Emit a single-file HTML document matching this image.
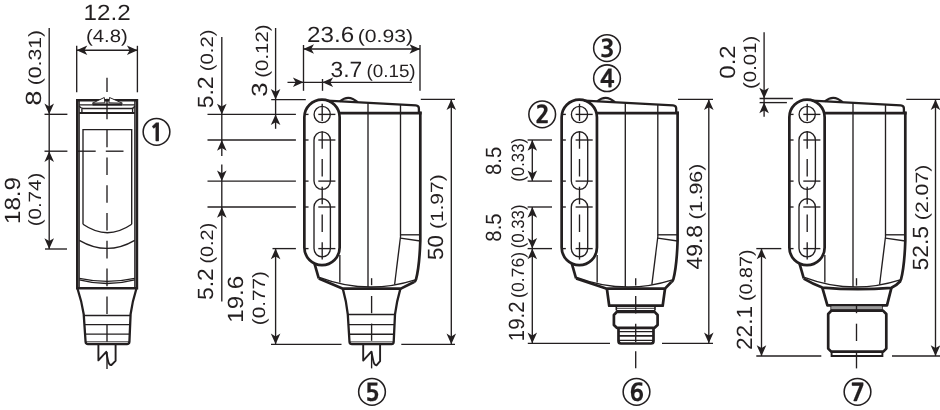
<!DOCTYPE html>
<html><head><meta charset="utf-8"><title>Dimensional drawing</title>
<style>
html,body{margin:0;padding:0;background:#fff;}
body{width:940px;height:410px;overflow:hidden;}
svg{display:block;will-change:transform;}
svg text{font-family:"Liberation Sans",sans-serif;fill:#231f20;stroke:none;text-rendering:geometricPrecision;}
svg text.cn{font-family:"NanumGothic","Liberation Sans",sans-serif;font-weight:800;stroke:#231f20;stroke-width:0.15px;}
</style></head><body>
<svg width="940" height="410" viewBox="0 0 940 410" fill="none" stroke="#231f20" stroke-linecap="butt">
<rect x="0" y="0" width="940" height="410" fill="#fff" stroke="none"/>
<path d="M77.3 288.3 L77.3 100.3 L136.9 100.3 L136.9 288.3 Z" stroke-width="2.6" />
<line x1="79.15" y1="100.3" x2="79.15" y2="288.3" stroke-width="1.35" />
<line x1="134.85" y1="100.3" x2="134.85" y2="288.3" stroke-width="1.35" />
<path d="M92.4 103.2 L104.3 97.5 L104.9 102.8 Z M122.4 103.2 L109.5 97.5 L108.9 102.8 Z" stroke-width="0.95" fill="#fff"/>
<line x1="92.6" y1="104.5" x2="122" y2="104.5" stroke-width="2.0" />
<line x1="79.3" y1="104.9" x2="134.7" y2="104.9" stroke-width="1.3" />
<path d="M79.3 106 Q80.5 108.5 83 108.5 L131.4 108.5 Q133.9 108.5 134.7 106" stroke-width="1.3" />
<line x1="79.3" y1="113.1" x2="134.7" y2="113.1" stroke-width="2.0" />
<line x1="81.9" y1="108.5" x2="81.9" y2="113" stroke-width="1.35" />
<line x1="132.6" y1="108.5" x2="132.6" y2="113" stroke-width="1.35" />
<path d="M83 224.3 L83 129.6 L131.7 129.6 L131.7 224.3" stroke-width="1.35" />
<path d="M83 224.3 Q107.3 241.1 131.7 224.3" stroke-width="1.35" />
<path d="M79.3 240.3 Q107 256.5 134.7 240.3" stroke-width="1.35" />
<path d="M79.3 278.4 Q107 284.4 134.7 278.4" stroke-width="1.35" />
<path d="M79.3 279.8 Q107 287.1 134.7 279.8" stroke-width="1.35" />
<path d="M77.6 289 Q81.8 301.6 83.7 314.2 L85.6 342 Q85.8 344.1 88 344.1 L127 344.1 Q129.2 344.1 129.4 342 L130.6 314.2 Q132.3 301.6 136.3 289" stroke-width="2.3" />
<line x1="83.9" y1="315.5" x2="130.5" y2="315.5" stroke-width="1.35" />
<line x1="84.5" y1="324.6" x2="130.2" y2="324.6" stroke-width="1.35" />
<line x1="85.1" y1="334.1" x2="129.8" y2="334.1" stroke-width="1.35" />
<line x1="85.6" y1="341.8" x2="129.4" y2="341.8" stroke-width="0.9" />
<path d="M98.4 345 L98.4 360.4 L106.2 351.8 L107.9 360.3 Q108.9 365.4 111.4 365 L115.6 360.8 L115.6 345" stroke-width="1.9" stroke-linejoin="round"/>
<line x1="107.0" y1="77.8" x2="107.0" y2="92.0" stroke-width="1.35" />
<line x1="107.0" y1="98.8" x2="107.0" y2="119.2" stroke-width="1.35" />
<line x1="107.0" y1="129.6" x2="107.0" y2="369" stroke-width="1.35" stroke-dasharray="17.6 10.2"/>
<line x1="77.5" y1="151.2" x2="95.7" y2="151.2" stroke-width="1.35" />
<line x1="105.8" y1="151.2" x2="123.5" y2="151.2" stroke-width="1.35" />
<line x1="76.7" y1="45.8" x2="76.7" y2="92.3" stroke-width="1.35" />
<line x1="137.4" y1="45.8" x2="137.4" y2="92.3" stroke-width="1.35" />
<line x1="76.7" y1="50.2" x2="137.4" y2="50.2" stroke-width="1.35" />
<polygon points="76.60,50.20 87.30,45.40 84.52,50.20 87.30,55.00" fill="#231f20" stroke="none"/>
<polygon points="137.60,50.20 126.90,45.40 129.68,50.20 126.90,55.00" fill="#231f20" stroke="none"/>
<line x1="49.2" y1="28" x2="49.2" y2="249" stroke-width="1.35" />
<polygon points="49.20,114.30 44.40,103.60 49.20,106.38 54.00,103.60" fill="#231f20" stroke="none"/>
<line x1="44.5" y1="114.3" x2="67.4" y2="114.3" stroke-width="1.35" />
<line x1="44.5" y1="151.2" x2="67.4" y2="151.2" stroke-width="1.35" />
<polygon points="49.20,151.20 44.40,161.90 49.20,159.12 54.00,161.90" fill="#231f20" stroke="none"/>
<polygon points="49.20,249.00 44.40,238.30 49.20,241.08 54.00,238.30" fill="#231f20" stroke="none"/>
<line x1="45" y1="249" x2="67" y2="249" stroke-width="1.35" />
<circle cx="156.5" cy="131.8" r="13.35" stroke-width="1.55"/>
<text x="156.8" y="140.8" font-size="24" text-anchor="middle" class="cn" >1</text>
<path d="M304.35 247.5 L304.35 117.2 A17.65 17.65 0 0 1 339.65 117.2 L339.65 247.5 A17.65 17.65 0 0 1 304.35 247.5 Z" stroke-width="2.7" />
<path d="M327.0 100.6 L415.8 105.35 Q418.9 105.6 418.9 108.6 L418.9 113" stroke-width="2.3" stroke-linejoin="round"/>
<path d="M420.3 111.4 L420.3 241 C419.8 256 418.5 270 416 279.5 Q415.5 281.3 414 282" stroke-width="2.7" stroke-linejoin="round"/>
<line x1="339.65" y1="113.1" x2="421.65" y2="113.1" stroke-width="2.9" />
<path d="M339.9 101.4 Q348.6 93.9 357.6 102.2" stroke-width="2.3" />
<line x1="368.0" y1="103" x2="368.0" y2="287" stroke-width="1.35" />
<line x1="400.5" y1="104.5" x2="400.5" y2="236" stroke-width="1.35" />
<line x1="400.5" y1="234.8" x2="420.3" y2="234.8" stroke-width="1.35" />
<line x1="400.4" y1="238.2" x2="420.3" y2="241" stroke-width="1.35" />
<path d="M400.6 236 L394.6 284.6" stroke-width="1.35" />
<line x1="339.85" y1="255" x2="339.85" y2="282.5" stroke-width="1.35" />
<path d="M314.6 263.8 L318.8 278.5" stroke-width="2.7" />
<path d="M319.4 277.3 A145 145 0 0 0 415.2 279.9" stroke-width="1.35" />
<circle cx="322.2" cy="114.5" r="8.1" stroke-width="1.35"/>
<path d="M314.0 140 A8.2 8.2 0 0 1 330.4 140 L330.4 181.1 A8.2 8.2 0 0 1 314.0 181.1 Z" stroke-width="1.35" />
<path d="M314.0 207 A8.2 8.2 0 0 1 330.4 207 L330.4 248.6 A8.2 8.2 0 0 1 314.0 248.6 Z" stroke-width="1.35" />
<line x1="318.3" y1="114.4" x2="335.4" y2="114.4" stroke-width="1.35" />
<line x1="304.35" y1="114.4" x2="308.55" y2="114.4" stroke-width="1.35" />
<line x1="318.3" y1="140" x2="335.4" y2="140" stroke-width="1.35" />
<line x1="304.35" y1="140" x2="308.55" y2="140" stroke-width="1.35" />
<line x1="318.3" y1="181.1" x2="335.4" y2="181.1" stroke-width="1.35" />
<line x1="304.35" y1="181.1" x2="308.55" y2="181.1" stroke-width="1.35" />
<line x1="318.3" y1="207" x2="335.4" y2="207" stroke-width="1.35" />
<line x1="304.35" y1="207" x2="308.55" y2="207" stroke-width="1.35" />
<line x1="318.3" y1="248.6" x2="335.4" y2="248.6" stroke-width="1.35" />
<line x1="304.35" y1="248.6" x2="308.55" y2="248.6" stroke-width="1.35" />
<line x1="322.2" y1="103.7" x2="322.2" y2="259.6" stroke-width="1.35" stroke-dasharray="17.4 10.3"/>
<path d="M318.8 278.5 L342.4 288.6 L400.8 288.6 L414 282" stroke-width="2.7" stroke-linejoin="round"/>
<path d="M342.8 288.6 Q346.5 301.7 347.8 314.4 L349.5 342 Q349.7 344.2 352 344.2 L391.6 344.2 Q393.5 344.2 393.7 342 L395 314.4 Q396.6 301.7 400.4 288.6" stroke-width="2.3" />
<line x1="348" y1="314.5" x2="395" y2="314.5" stroke-width="1.6" />
<line x1="348.6" y1="324.6" x2="394.6" y2="324.6" stroke-width="1.35" />
<line x1="349.2" y1="334.2" x2="394.2" y2="334.2" stroke-width="1.35" />
<line x1="349.6" y1="341.9" x2="394" y2="341.9" stroke-width="0.9" />
<path d="M363.2 345 L363.2 360.6 L371.4 351.7 L373.2 360.4 Q374.2 365.6 376.7 365.2 L380.1 361.2 L380.1 345" stroke-width="1.9" stroke-linejoin="round"/>
<line x1="371.6" y1="278.2" x2="371.6" y2="285.2" stroke-width="1.35" />
<line x1="371.6" y1="296" x2="371.6" y2="313.2" stroke-width="1.35" />
<line x1="371.6" y1="323.6" x2="371.6" y2="340.8" stroke-width="1.35" />
<line x1="371.6" y1="351.4" x2="371.6" y2="368.4" stroke-width="1.35" />
<line x1="303.5" y1="45" x2="303.5" y2="90.8" stroke-width="1.35" />
<line x1="420.0" y1="45" x2="420.0" y2="90.8" stroke-width="1.35" />
<line x1="303.5" y1="49" x2="420" y2="49" stroke-width="1.35" />
<polygon points="303.30,49.00 314.00,44.20 311.22,49.00 314.00,53.80" fill="#231f20" stroke="none"/>
<polygon points="420.20,49.00 409.50,44.20 412.28,49.00 409.50,53.80" fill="#231f20" stroke="none"/>
<line x1="287.5" y1="82.3" x2="411.9" y2="82.3" stroke-width="1.35" />
<polygon points="303.60,82.30 292.90,77.50 295.68,82.30 292.90,87.10" fill="#231f20" stroke="none"/>
<polygon points="322.40,82.30 333.10,77.50 330.32,82.30 333.10,87.10" fill="#231f20" stroke="none"/>
<line x1="322.5" y1="79" x2="322.5" y2="90.8" stroke-width="1.35" />
<line x1="275.6" y1="28" x2="275.6" y2="99.6" stroke-width="1.35" />
<polygon points="275.60,99.60 270.80,88.90 275.60,91.68 280.40,88.90" fill="#231f20" stroke="none"/>
<line x1="271.2" y1="99.6" x2="305.8" y2="99.6" stroke-width="1.35" />
<polygon points="275.60,114.40 270.80,125.10 275.60,122.32 280.40,125.10" fill="#231f20" stroke="none"/>
<line x1="275.6" y1="99.6" x2="275.6" y2="128.8" stroke-width="1.35" />
<line x1="221.8" y1="37" x2="221.8" y2="114.4" stroke-width="1.35" />
<polygon points="221.80,114.40 217.00,103.70 221.80,106.48 226.60,103.70" fill="#231f20" stroke="none"/>
<line x1="207.5" y1="114.4" x2="295.9" y2="114.4" stroke-width="1.35" />
<line x1="207.5" y1="140" x2="295.9" y2="140" stroke-width="1.35" />
<line x1="207.5" y1="181.1" x2="295.9" y2="181.1" stroke-width="1.35" />
<line x1="207.5" y1="207" x2="295.9" y2="207" stroke-width="1.35" />
<line x1="221.8" y1="114.4" x2="221.8" y2="140" stroke-width="1.35" />
<line x1="221.8" y1="181.1" x2="221.8" y2="207" stroke-width="1.35" />
<polygon points="221.80,140.00 217.00,150.70 221.80,147.92 226.60,150.70" fill="#231f20" stroke="none"/>
<line x1="221.8" y1="140" x2="221.8" y2="156" stroke-width="1.35" />
<polygon points="221.80,181.10 217.00,170.40 221.80,173.18 226.60,170.40" fill="#231f20" stroke="none"/>
<line x1="221.8" y1="164.5" x2="221.8" y2="181.1" stroke-width="1.35" />
<polygon points="221.80,207.00 217.00,217.70 221.80,214.92 226.60,217.70" fill="#231f20" stroke="none"/>
<line x1="221.8" y1="207" x2="221.8" y2="301.6" stroke-width="1.35" />
<line x1="272.5" y1="248.6" x2="295.9" y2="248.6" stroke-width="1.35" />
<polygon points="275.60,248.60 270.80,259.30 275.60,256.52 280.40,259.30" fill="#231f20" stroke="none"/>
<line x1="275.6" y1="248.6" x2="275.6" y2="344.3" stroke-width="1.35" />
<polygon points="275.60,344.30 270.80,333.60 275.60,336.38 280.40,333.60" fill="#231f20" stroke="none"/>
<line x1="271" y1="344.3" x2="341.5" y2="344.3" stroke-width="1.35" />
<line x1="401.3" y1="344.3" x2="455" y2="344.3" stroke-width="1.35" />
<line x1="420.8" y1="99.4" x2="455" y2="99.4" stroke-width="1.35" />
<line x1="451.3" y1="99.4" x2="451.3" y2="344.3" stroke-width="1.35" />
<polygon points="451.30,99.40 446.50,110.10 451.30,107.32 456.10,110.10" fill="#231f20" stroke="none"/>
<polygon points="451.30,344.30 446.50,333.60 451.30,336.38 456.10,333.60" fill="#231f20" stroke="none"/>
<circle cx="372" cy="391.8" r="13.35" stroke-width="1.55"/>
<text x="372.3" y="400.8" font-size="24" text-anchor="middle" class="cn" >5</text>
<path d="M561.65 247.5 L561.65 117.2 A17.65 17.65 0 0 1 596.95 117.2 L596.95 247.5 A17.65 17.65 0 0 1 561.65 247.5 Z" stroke-width="2.7" />
<path d="M584.3 100.6 L673.1 105.35 Q676.2 105.6 676.2 108.6 L676.2 113" stroke-width="2.3" stroke-linejoin="round"/>
<path d="M677.6 111.4 L677.6 241 C677.1 256 675.8 270 673.3 279.5 Q672.8 281.3 671.3 282" stroke-width="2.7" stroke-linejoin="round"/>
<line x1="596.95" y1="113.1" x2="678.95" y2="113.1" stroke-width="2.9" />
<path d="M597.2 101.4 Q605.9 93.9 614.9 102.2" stroke-width="2.3" />
<line x1="625.3" y1="103" x2="625.3" y2="287" stroke-width="1.35" />
<line x1="657.8" y1="104.5" x2="657.8" y2="236" stroke-width="1.35" />
<line x1="657.8" y1="234.8" x2="677.6" y2="234.8" stroke-width="1.35" />
<line x1="657.7" y1="238.2" x2="677.6" y2="241" stroke-width="1.35" />
<path d="M657.9 236 L651.9 284.6" stroke-width="1.35" />
<line x1="597.15" y1="255" x2="597.15" y2="282.5" stroke-width="1.35" />
<path d="M571.9 263.8 L576.1 278.5" stroke-width="2.7" />
<path d="M576.7 277.3 A145 145 0 0 0 672.5 279.9" stroke-width="1.35" />
<circle cx="579.5" cy="114.5" r="8.1" stroke-width="1.35"/>
<path d="M571.3 140 A8.2 8.2 0 0 1 587.7 140 L587.7 181.1 A8.2 8.2 0 0 1 571.3 181.1 Z" stroke-width="1.35" />
<path d="M571.3 207 A8.2 8.2 0 0 1 587.7 207 L587.7 248.6 A8.2 8.2 0 0 1 571.3 248.6 Z" stroke-width="1.35" />
<line x1="575.6" y1="114.4" x2="592.7" y2="114.4" stroke-width="1.35" />
<line x1="561.65" y1="114.4" x2="565.85" y2="114.4" stroke-width="1.35" />
<line x1="575.6" y1="140" x2="592.7" y2="140" stroke-width="1.35" />
<line x1="561.65" y1="140" x2="565.85" y2="140" stroke-width="1.35" />
<line x1="575.6" y1="181.1" x2="592.7" y2="181.1" stroke-width="1.35" />
<line x1="561.65" y1="181.1" x2="565.85" y2="181.1" stroke-width="1.35" />
<line x1="575.6" y1="207" x2="592.7" y2="207" stroke-width="1.35" />
<line x1="561.65" y1="207" x2="565.85" y2="207" stroke-width="1.35" />
<line x1="575.6" y1="248.6" x2="592.7" y2="248.6" stroke-width="1.35" />
<line x1="561.65" y1="248.6" x2="565.85" y2="248.6" stroke-width="1.35" />
<line x1="579.5" y1="103.7" x2="579.5" y2="259.6" stroke-width="1.35" stroke-dasharray="17.4 10.3"/>
<path d="M576.1 278.5 L606.9 288.7 L665 288.7 L671.3 282" stroke-width="2.7" stroke-linejoin="round"/>
<path d="M606.9 288.7 L609.2 305.7 L662.7 305.7 L665 288.7" stroke-width="2.7" stroke-linejoin="round"/>
<line x1="616.3" y1="305.7" x2="616.3" y2="310.4" stroke-width="1.6" />
<line x1="655" y1="305.7" x2="655" y2="310.4" stroke-width="1.6" />
<line x1="616.3" y1="308.3" x2="655" y2="308.3" stroke-width="0.9" />
<line x1="616.3" y1="310.6" x2="655" y2="310.6" stroke-width="1.4" />
<path d="M616.8 311.8 L654.6 311.8 L657.6 315 L657.6 325 L654.6 327.8 L616.8 327.8 L613.9 325 L613.9 315 Z" stroke-width="2.7" stroke-linejoin="round"/>
<path d="M618.5 327.8 L618.5 341 Q618.5 343.5 621 343.5 L651 343.5 Q653.5 343.5 653.5 341 L653.5 327.8" stroke-width="2.7" />
<line x1="618.5" y1="331.6" x2="653.5" y2="331.6" stroke-width="1.35" />
<line x1="618.5" y1="335.8" x2="653.5" y2="335.8" stroke-width="1.8" />
<line x1="618.5" y1="340.3" x2="653.5" y2="340.3" stroke-width="1.35" />
<line x1="635.7" y1="278.2" x2="635.7" y2="285.5" stroke-width="1.35" />
<line x1="635.7" y1="296" x2="635.7" y2="313.6" stroke-width="1.35" />
<line x1="635.7" y1="323.8" x2="635.7" y2="342" stroke-width="1.35" />
<line x1="635.7" y1="351.2" x2="635.7" y2="368.3" stroke-width="1.35" />
<line x1="532.3" y1="140" x2="532.3" y2="181.1" stroke-width="1.35" />
<polygon points="532.30,140.00 527.50,150.70 532.30,147.92 537.10,150.70" fill="#231f20" stroke="none"/>
<polygon points="532.30,181.10 527.50,170.40 532.30,173.18 537.10,170.40" fill="#231f20" stroke="none"/>
<line x1="532.3" y1="207" x2="532.3" y2="248.6" stroke-width="1.35" />
<polygon points="532.30,207.00 527.50,217.70 532.30,214.92 537.10,217.70" fill="#231f20" stroke="none"/>
<polygon points="532.30,248.60 527.50,237.90 532.30,240.68 537.10,237.90" fill="#231f20" stroke="none"/>
<line x1="532.3" y1="248.6" x2="532.3" y2="343.3" stroke-width="1.35" />
<polygon points="532.30,248.60 527.50,259.30 532.30,256.52 537.10,259.30" fill="#231f20" stroke="none"/>
<polygon points="532.30,343.30 527.50,332.60 532.30,335.38 537.10,332.60" fill="#231f20" stroke="none"/>
<line x1="527.6" y1="140" x2="552" y2="140" stroke-width="1.35" />
<line x1="527.6" y1="181.1" x2="552" y2="181.1" stroke-width="1.35" />
<line x1="527.6" y1="207" x2="552" y2="207" stroke-width="1.35" />
<line x1="527.6" y1="248.6" x2="552" y2="248.6" stroke-width="1.35" />
<line x1="527.8" y1="343.3" x2="610" y2="343.3" stroke-width="1.35" />
<line x1="662" y1="343.3" x2="713" y2="343.3" stroke-width="1.35" />
<line x1="678" y1="99.4" x2="713" y2="99.4" stroke-width="1.35" />
<line x1="708.8" y1="99.4" x2="708.8" y2="343.3" stroke-width="1.35" />
<polygon points="708.80,99.40 704.00,110.10 708.80,107.32 713.60,110.10" fill="#231f20" stroke="none"/>
<polygon points="708.80,343.30 704.00,332.60 708.80,335.38 713.60,332.60" fill="#231f20" stroke="none"/>
<circle cx="542.2" cy="114.3" r="13.35" stroke-width="1.55"/>
<text x="542.5" y="123.3" font-size="24" text-anchor="middle" class="cn" >2</text>
<circle cx="607" cy="48.1" r="13.35" stroke-width="1.55"/>
<text x="607.3" y="57.1" font-size="24" text-anchor="middle" class="cn" >3</text>
<circle cx="607" cy="78.2" r="13.35" stroke-width="1.55"/>
<text x="607.3" y="87.2" font-size="24" text-anchor="middle" class="cn" >4</text>
<circle cx="636.5" cy="391.8" r="13.35" stroke-width="1.55"/>
<text x="636.8" y="400.8" font-size="24" text-anchor="middle" class="cn" >6</text>
<path d="M789.35 247.5 L789.35 117.2 A17.65 17.65 0 0 1 824.65 117.2 L824.65 247.5 A17.65 17.65 0 0 1 789.35 247.5 Z" stroke-width="2.7" />
<path d="M812.0 100.6 L900.8 105.35 Q903.9 105.6 903.9 108.6 L903.9 113" stroke-width="2.3" stroke-linejoin="round"/>
<path d="M905.3 111.4 L905.3 241 C904.8 256 903.5 270 901.0 279.5 Q900.5 281.3 899.0 282" stroke-width="2.7" stroke-linejoin="round"/>
<line x1="824.65" y1="113.1" x2="906.65" y2="113.1" stroke-width="2.9" />
<path d="M824.9 101.4 Q833.6 93.9 842.6 102.2" stroke-width="2.3" />
<line x1="853.0" y1="103" x2="853.0" y2="287" stroke-width="1.35" />
<line x1="885.5" y1="104.5" x2="885.5" y2="236" stroke-width="1.35" />
<line x1="885.5" y1="234.8" x2="905.3" y2="234.8" stroke-width="1.35" />
<line x1="885.4" y1="238.2" x2="905.3" y2="241" stroke-width="1.35" />
<path d="M885.6 236 L879.6 284.6" stroke-width="1.35" />
<line x1="824.85" y1="255" x2="824.85" y2="282.5" stroke-width="1.35" />
<path d="M799.6 263.8 L803.8 278.5" stroke-width="2.7" />
<path d="M804.4 277.3 A145 145 0 0 0 900.2 279.9" stroke-width="1.35" />
<circle cx="807.2" cy="114.5" r="8.1" stroke-width="1.35"/>
<path d="M799.0 140 A8.2 8.2 0 0 1 815.4 140 L815.4 181.1 A8.2 8.2 0 0 1 799.0 181.1 Z" stroke-width="1.35" />
<path d="M799.0 207 A8.2 8.2 0 0 1 815.4 207 L815.4 248.6 A8.2 8.2 0 0 1 799.0 248.6 Z" stroke-width="1.35" />
<line x1="803.3" y1="114.4" x2="820.4" y2="114.4" stroke-width="1.35" />
<line x1="789.35" y1="114.4" x2="793.55" y2="114.4" stroke-width="1.35" />
<line x1="803.3" y1="140" x2="820.4" y2="140" stroke-width="1.35" />
<line x1="789.35" y1="140" x2="793.55" y2="140" stroke-width="1.35" />
<line x1="803.3" y1="181.1" x2="820.4" y2="181.1" stroke-width="1.35" />
<line x1="789.35" y1="181.1" x2="793.55" y2="181.1" stroke-width="1.35" />
<line x1="803.3" y1="207" x2="820.4" y2="207" stroke-width="1.35" />
<line x1="789.35" y1="207" x2="793.55" y2="207" stroke-width="1.35" />
<line x1="803.3" y1="248.6" x2="820.4" y2="248.6" stroke-width="1.35" />
<line x1="789.35" y1="248.6" x2="793.55" y2="248.6" stroke-width="1.35" />
<line x1="807.2" y1="103.7" x2="807.2" y2="259.6" stroke-width="1.35" stroke-dasharray="17.4 10.3"/>
<path d="M803.7 278.6 Q813.0 284 822.3 287.6 Q856.5 290.6 891.4 287.8 Q897 285 900.5 281" stroke-width="2.7" stroke-linejoin="round"/>
<path d="M822.3 287.6 L827.4 305.4 L887 305.4 L891.4 287.8" stroke-width="2.7" stroke-linejoin="round"/>
<line x1="831.2" y1="305.4" x2="831.2" y2="310.4" stroke-width="1.6" />
<line x1="882" y1="305.4" x2="882" y2="310.4" stroke-width="1.6" />
<rect x="831.2" y="306.3" width="50.8" height="3.4" fill="#9a9a9a" stroke="none"/>
<line x1="831.2" y1="310.4" x2="882" y2="310.4" stroke-width="1.6" />
<path d="M831.4 310.6 L883 310.6 L886.3 314 L886.3 348.6 L883.3 351.6 L831.2 351.6 L828.2 348.6 L828.2 314 Z" stroke-width="2.7" stroke-linejoin="round"/>
<path d="M831.6 351.6 L831.6 356 L882.4 356 L882.4 351.6" stroke-width="1.9" />
<line x1="856.5" y1="278.2" x2="856.5" y2="285.6" stroke-width="1.35" />
<line x1="856.5" y1="305.7" x2="856.5" y2="313.2" stroke-width="1.35" />
<line x1="856.5" y1="323.7" x2="856.5" y2="341" stroke-width="1.35" />
<line x1="856.5" y1="352" x2="856.5" y2="368.4" stroke-width="1.35" />
<line x1="764.1" y1="32.3" x2="764.1" y2="116.7" stroke-width="1.35" />
<polygon points="764.10,98.40 759.30,87.70 764.10,90.48 768.90,87.70" fill="#231f20" stroke="none"/>
<line x1="759.6" y1="98.45" x2="792.9" y2="98.45" stroke-width="1.35" />
<line x1="759.6" y1="102.6" x2="786.9" y2="102.6" stroke-width="1.35" />
<polygon points="764.10,102.60 759.30,113.30 764.10,110.52 768.90,113.30" fill="#231f20" stroke="none"/>
<line x1="756.3" y1="248.6" x2="781.3" y2="248.6" stroke-width="1.35" />
<polygon points="761.50,248.60 756.70,259.30 761.50,256.52 766.30,259.30" fill="#231f20" stroke="none"/>
<line x1="761.5" y1="248.6" x2="761.5" y2="356" stroke-width="1.35" />
<polygon points="761.50,356.00 756.70,345.30 761.50,348.08 766.30,345.30" fill="#231f20" stroke="none"/>
<line x1="756.3" y1="356" x2="821.3" y2="356" stroke-width="1.35" />
<line x1="892" y1="356" x2="940" y2="356" stroke-width="1.35" />
<line x1="906.3" y1="99.4" x2="940" y2="99.4" stroke-width="1.35" />
<line x1="935.5" y1="99.4" x2="935.5" y2="356" stroke-width="1.35" />
<polygon points="935.50,99.40 930.70,110.10 935.50,107.32 940.30,110.10" fill="#231f20" stroke="none"/>
<polygon points="935.50,356.00 930.70,345.30 935.50,348.08 940.30,345.30" fill="#231f20" stroke="none"/>
<circle cx="857.5" cy="391.8" r="13.35" stroke-width="1.55"/>
<text x="857.8" y="400.8" font-size="24" text-anchor="middle" class="cn" >7</text>
<text x="83.5" y="20.2" font-size="22" text-anchor="start" font-weight="normal" textLength="47.11" lengthAdjust="spacingAndGlyphs" >12.2</text>
<text x="85.96" y="41.6" font-size="17.8" text-anchor="start" font-weight="normal" textLength="41.79" lengthAdjust="spacingAndGlyphs" >(4.8)</text>
<text x="307.1" y="42.2" font-size="22" text-anchor="start" font-weight="normal" textLength="47.11" lengthAdjust="spacingAndGlyphs" >23.6</text>
<text x="357.71" y="42.2" font-size="17.8" text-anchor="start" font-weight="normal" textLength="55.32" lengthAdjust="spacingAndGlyphs" >(0.93)</text>
<text x="330.56" y="76.6" font-size="22" text-anchor="start" font-weight="normal" textLength="31.69" lengthAdjust="spacingAndGlyphs" >3.7</text>
<text x="366.44" y="76.6" font-size="17.8" text-anchor="start" font-weight="normal" textLength="49.2" lengthAdjust="spacingAndGlyphs" >(0.15)</text>
<text x="41" y="105.75" font-size="22" text-anchor="start" font-weight="normal" textLength="15.31" lengthAdjust="spacingAndGlyphs" transform="rotate(-90 41 105.75)" >8</text>
<text x="41" y="85.19" font-size="17.8" text-anchor="start" font-weight="normal" textLength="55.22" lengthAdjust="spacingAndGlyphs" transform="rotate(-90 41 85.19)" >(0.31)</text>
<text x="20.2" y="224.1" font-size="22" text-anchor="start" font-weight="normal" textLength="47.22" lengthAdjust="spacingAndGlyphs" transform="rotate(-90 20.2 224.1)" >18.9</text>
<text x="41" y="226.35" font-size="17.8" text-anchor="start" font-weight="normal" textLength="53.63" lengthAdjust="spacingAndGlyphs" transform="rotate(-90 41 226.35)" >(0.74)</text>
<text x="213.3" y="108.35" font-size="22" text-anchor="start" font-weight="normal" textLength="32.01" lengthAdjust="spacingAndGlyphs" transform="rotate(-90 213.3 108.35)" >5.2</text>
<text x="213.3" y="71.14" font-size="17.8" text-anchor="start" font-weight="normal" textLength="41.58" lengthAdjust="spacingAndGlyphs" transform="rotate(-90 213.3 71.14)" >(0.2)</text>
<text x="213.5" y="300.04" font-size="22" text-anchor="start" font-weight="normal" textLength="31.9" lengthAdjust="spacingAndGlyphs" transform="rotate(-90 213.5 300.04)" >5.2</text>
<text x="213.5" y="263.51" font-size="17.8" text-anchor="start" font-weight="normal" textLength="40.74" lengthAdjust="spacingAndGlyphs" transform="rotate(-90 213.5 263.51)" >(0.2)</text>
<text x="267.5" y="96.77" font-size="22" text-anchor="start" font-weight="normal" textLength="14.33" lengthAdjust="spacingAndGlyphs" transform="rotate(-90 267.5 96.77)" >3</text>
<text x="267.5" y="77.75" font-size="17.8" text-anchor="start" font-weight="normal" textLength="53.32" lengthAdjust="spacingAndGlyphs" transform="rotate(-90 267.5 77.75)" >(0.12)</text>
<text x="243.4" y="322.8" font-size="22" text-anchor="start" font-weight="normal" textLength="47.11" lengthAdjust="spacingAndGlyphs" transform="rotate(-90 243.4 322.8)" >19.6</text>
<text x="264.7" y="325.17" font-size="17.8" text-anchor="start" font-weight="normal" textLength="54.16" lengthAdjust="spacingAndGlyphs" transform="rotate(-90 264.7 325.17)" >(0.77)</text>
<text x="443.5" y="259.92" font-size="22" text-anchor="start" font-weight="normal" textLength="24.91" lengthAdjust="spacingAndGlyphs" transform="rotate(-90 443.5 259.92)" >50</text>
<text x="443.5" y="229.08" font-size="17.8" text-anchor="start" font-weight="normal" textLength="54.69" lengthAdjust="spacingAndGlyphs" transform="rotate(-90 443.5 229.08)" >(1.97)</text>
<text x="501.4" y="174.92" font-size="22" text-anchor="start" font-weight="normal" textLength="28.17" lengthAdjust="spacingAndGlyphs" transform="rotate(-90 501.4 174.92)" >8.5</text>
<text x="524.1" y="181.74" font-size="17.8" text-anchor="start" font-weight="normal" textLength="43.81" lengthAdjust="spacingAndGlyphs" transform="rotate(-90 524.1 181.74)" >(0.33)</text>
<text x="501.4" y="241.62" font-size="22" text-anchor="start" font-weight="normal" textLength="28.17" lengthAdjust="spacingAndGlyphs" transform="rotate(-90 501.4 241.62)" >8.5</text>
<text x="524.1" y="248.34" font-size="17.8" text-anchor="start" font-weight="normal" textLength="43.81" lengthAdjust="spacingAndGlyphs" transform="rotate(-90 524.1 248.34)" >(0.33)</text>
<text x="523.8" y="341.16" font-size="22" text-anchor="start" font-weight="normal" textLength="39.72" lengthAdjust="spacingAndGlyphs" transform="rotate(-90 523.8 341.16)" >19.2</text>
<text x="523.8" y="297.89" font-size="17.8" text-anchor="start" font-weight="normal" textLength="45.93" lengthAdjust="spacingAndGlyphs" transform="rotate(-90 523.8 297.89)" >(0.76)</text>
<text x="702.4" y="269.5" font-size="22" text-anchor="start" font-weight="normal" textLength="44.56" lengthAdjust="spacingAndGlyphs" transform="rotate(-90 702.4 269.5)" >49.8</text>
<text x="702.4" y="219.5" font-size="17.8" text-anchor="start" font-weight="normal" textLength="55.85" lengthAdjust="spacingAndGlyphs" transform="rotate(-90 702.4 219.5)" >(1.96)</text>
<text x="735.1" y="78.69" font-size="22" text-anchor="start" font-weight="normal" textLength="33.33" lengthAdjust="spacingAndGlyphs" transform="rotate(-90 735.1 78.69)" >0.2</text>
<text x="756.1" y="88.95" font-size="17.8" text-anchor="start" font-weight="normal" textLength="53.21" lengthAdjust="spacingAndGlyphs" transform="rotate(-90 756.1 88.95)" >(0.01)</text>
<text x="751.6" y="350.03" font-size="22" text-anchor="start" font-weight="normal" textLength="44.08" lengthAdjust="spacingAndGlyphs" transform="rotate(-90 751.6 350.03)" >22.1</text>
<text x="751.6" y="301.11" font-size="17.8" text-anchor="start" font-weight="normal" textLength="51.63" lengthAdjust="spacingAndGlyphs" transform="rotate(-90 751.6 301.11)" >(0.87)</text>
<text x="928.5" y="270.54" font-size="22" text-anchor="start" font-weight="normal" textLength="44.6" lengthAdjust="spacingAndGlyphs" transform="rotate(-90 928.5 270.54)" >52.5</text>
<text x="928.5" y="220.2" font-size="17.8" text-anchor="start" font-weight="normal" textLength="55.53" lengthAdjust="spacingAndGlyphs" transform="rotate(-90 928.5 220.2)" >(2.07)</text>
</svg>
</body></html>
